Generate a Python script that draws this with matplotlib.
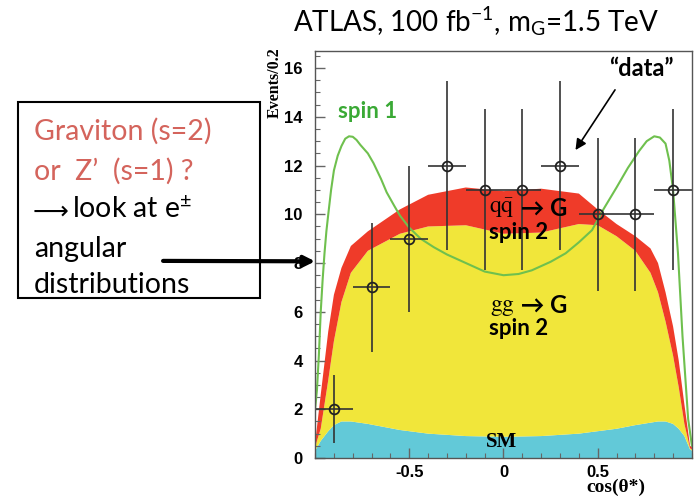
import numpy as np
import matplotlib
matplotlib.use("Agg")
import matplotlib.pyplot as plt
from matplotlib.patches import Rectangle
from matplotlib.ticker import MultipleLocator

plt.rcParams['mathtext.default'] = 'regular'

# stacked signal / background shapes
xs = [-1.0, -0.97, -0.93, -0.9, -0.86, -0.81, -0.72, -0.55, -0.4, -0.2, 0.0,
      0.2, 0.4, 0.5, 0.6, 0.7, 0.78, 0.82, 0.86, 0.9, 0.93, 0.96, 0.99, 1.0]
sm = [0.3, 0.7, 1.1, 1.35, 1.5, 1.5, 1.4, 1.15, 1.0, 0.9, 0.87,
      0.9, 1.0, 1.1, 1.2, 1.35, 1.45, 1.5, 1.5, 1.4, 1.2, 0.9, 0.35, 0.3]
gg = [0.15, 0.5, 2.1, 3.45, 4.9, 6.1, 7.1, 8.05, 8.5, 8.65, 8.33,
      8.35, 8.6, 8.45, 7.9, 7.15, 6.15, 5.3, 4.1, 2.8, 1.7, 0.5, 0.05, 0.05]
qq = [0.15, 1.4, 2.0, 1.9, 1.4, 1.1, 0.8, 1.0, 1.3, 1.55, 1.75,
      1.8, 1.25, 0.65, 0.5, 0.6, 1.0, 1.2, 1.2, 1.2, 1.1, 0.8, 0.1, 0.1]

# spin-1 expectation
x_s1 = [-1.0, -0.99, -0.98, -0.97, -0.96, -0.95, -0.94, -0.93, -0.915, -0.9,
        -0.88, -0.86, -0.84, -0.82, -0.8, -0.78, -0.76, -0.72, -0.69, -0.65,
        -0.62, -0.58, -0.55, -0.5, -0.44, -0.37, -0.3, -0.2, -0.1, 0.0,
        0.08, 0.15, 0.25, 0.33, 0.4, 0.47, 0.53, 0.6, 0.66, 0.72, 0.76,
        0.8, 0.83, 0.86, 0.88, 0.9, 0.926, 0.95, 0.98, 1.0]
y_s1 = [2.0, 2.8, 4.2, 6.0, 7.3, 8.4, 9.3, 10.0, 11.0, 11.8,
        12.4, 12.8, 13.1, 13.2, 13.18, 13.05, 12.85, 12.5, 12.1, 11.45,
        10.9, 10.35, 9.95, 9.45, 9.0, 8.65, 8.35, 8.0, 7.65, 7.5,
        7.55, 7.7, 8.05, 8.4, 8.85, 9.35, 10.2, 11.1, 11.9, 12.6, 13.0,
        13.2, 13.15, 12.9, 12.2, 11.0, 8.4, 5.0, 1.6, 0.5]

# pseudo data
x_data = [-0.9, -0.7, -0.5, -0.3, -0.1, 0.1, 0.3, 0.5, 0.7, 0.9]
n_data = [2, 7, 9, 12, 11, 11, 12, 10, 10, 11]
e_data = [1.4, 2.65, 3.0, 3.45, 3.3, 3.3, 3.45, 3.15, 3.15, 3.3]

fig = plt.figure(figsize=(6.94, 4.96), dpi=100)
ax = fig.add_axes([0.454, 0.0766, 0.543, 0.8206])

ax.stackplot(xs, sm, gg, qq, colors=['#62c9d8', '#f1e63a', '#ef3b29'],
             linewidth=0)
ax.plot(x_s1, y_s1, color='#6fc04e', lw=1.5)
ax.errorbar(x_data, n_data, yerr=e_data, xerr=0.1, fmt='o', ms=7,
            mfc='none', mec='#222222', mew=1.3, color='#333333',
            elinewidth=1.2, capsize=0)

ax.set_xlim(-1, 1)
ax.set_ylim(0, 16.7)
ax.set_xticks([-0.5, 0, 0.5])
ax.set_xticklabels(['-0.5', '0', '0.5'])
ax.xaxis.set_minor_locator(MultipleLocator(0.1))
ax.set_yticks(range(0, 17, 2))
ax.yaxis.set_minor_locator(MultipleLocator(0.5))
ax.tick_params(which='both', direction='in', color='#666666')
ax.tick_params(which='major', length=7, width=1)
ax.tick_params(which='minor', length=3.5, width=0.8)
ax.tick_params(axis='y', pad=9)
ax.tick_params(axis='x', pad=5)
for lab in ax.get_xticklabels() + ax.get_yticklabels():
    lab.set_fontfamily('Liberation Sans')
    lab.set_fontweight('bold')
    lab.set_fontsize(12)
for sp in ax.spines.values():
    sp.set_color('#555555')
    sp.set_linewidth(1)

# labels inside the plot
ax.text(-0.72, 14.2, 'spin 1', color='#3aa935', fontsize=16,
        fontweight='bold', family='Lato', ha='center', va='center')
ax.text(0.73, 16.0, '\u201cdata\u201d', color='black', fontsize=17,
        fontweight='bold', family='Lato', ha='center', va='center')
ax.annotate('', xy=(0.374, 12.54), xytext=(0.6, 15.2),
            arrowprops=dict(arrowstyle='-|>', color='black', lw=1.2,
                            mutation_scale=16))
ax.text(0.06, 10.25, r'$\mathrm{q\bar{q}}$', math_fontfamily='stix',
        fontsize=17, ha='right', va='center')
ax.text(0.06, 10.25, ' \u2192 G', family=['Lato', 'DejaVu Sans'],
        fontsize=17, fontweight='bold', ha='left', va='center')
ax.text(0.08, 9.25, 'spin 2', family='Lato', fontsize=16,
        fontweight='bold', ha='center', va='center')
ax.text(0.06, 6.25, r'$\mathrm{gg}$', math_fontfamily='stix',
        fontsize=17, ha='right', va='center')
ax.text(0.06, 6.25, ' \u2192 G', family=['Lato', 'DejaVu Sans'],
        fontsize=17, fontweight='bold', ha='left', va='center')
ax.text(0.08, 5.3, 'spin 2', family='Lato', fontsize=16,
        fontweight='bold', ha='center', va='center')
ax.text(-0.01, 0.66, 'SM', family='Liberation Serif', fontsize=15,
        fontweight='bold', ha='center', va='center')

# axis titles
fig.text(0.396, 0.905, 'Events/0.2', family='Liberation Serif',
         fontweight='bold', fontsize=11.5, rotation=90, ha='center', va='top')
fig.text(0.888, 0.0, 'cos(\u03b8*)', family='Liberation Serif',
         fontweight='bold', fontsize=14, ha='center', va='bottom')

fig.text(0.686, 0.958, r'ATLAS, 100 fb$^{-1}$, m$_{G}$=1.5 TeV',
         family='Lato', fontsize=20, ha='center', va='center')

# question box
fig.add_artist(Rectangle((0.026, 0.399), 0.349, 0.395, fill=False,
                         lw=1.5, ec='black', transform=fig.transFigure))
red = '#d4645c'
fs_box = 20.5
fig.text(0.049, 0.718, 'Graviton (s=2)', color=red, family='Lato',
         fontsize=fs_box, va='baseline')
fig.text(0.049, 0.637, 'or  Z\u2019  (s=1) ?', color=red, family='Lato',
         fontsize=fs_box, va='baseline')
fig.text(0.047, 0.560, '\u27f6', family='DejaVu Sans', fontsize=18,
         va='baseline')
fig.text(0.104, 0.560, 'look at e$^{\u00b1}$', family='Lato',
         fontsize=fs_box, va='baseline')
fig.text(0.049, 0.482, 'angular', family='Lato', fontsize=fs_box,
         va='baseline')
fig.text(0.049, 0.409, 'distributions', family='Lato', fontsize=fs_box,
         va='baseline')
ax.annotate('', xy=(-1, 8.07), xycoords='data', xytext=(0.235, 0.474),
            textcoords='figure fraction', annotation_clip=False,
            arrowprops=dict(arrowstyle='-|>', color='black', lw=3,
                            mutation_scale=16, shrinkA=0, shrinkB=0))

fig.savefig('out.png', dpi=100)
